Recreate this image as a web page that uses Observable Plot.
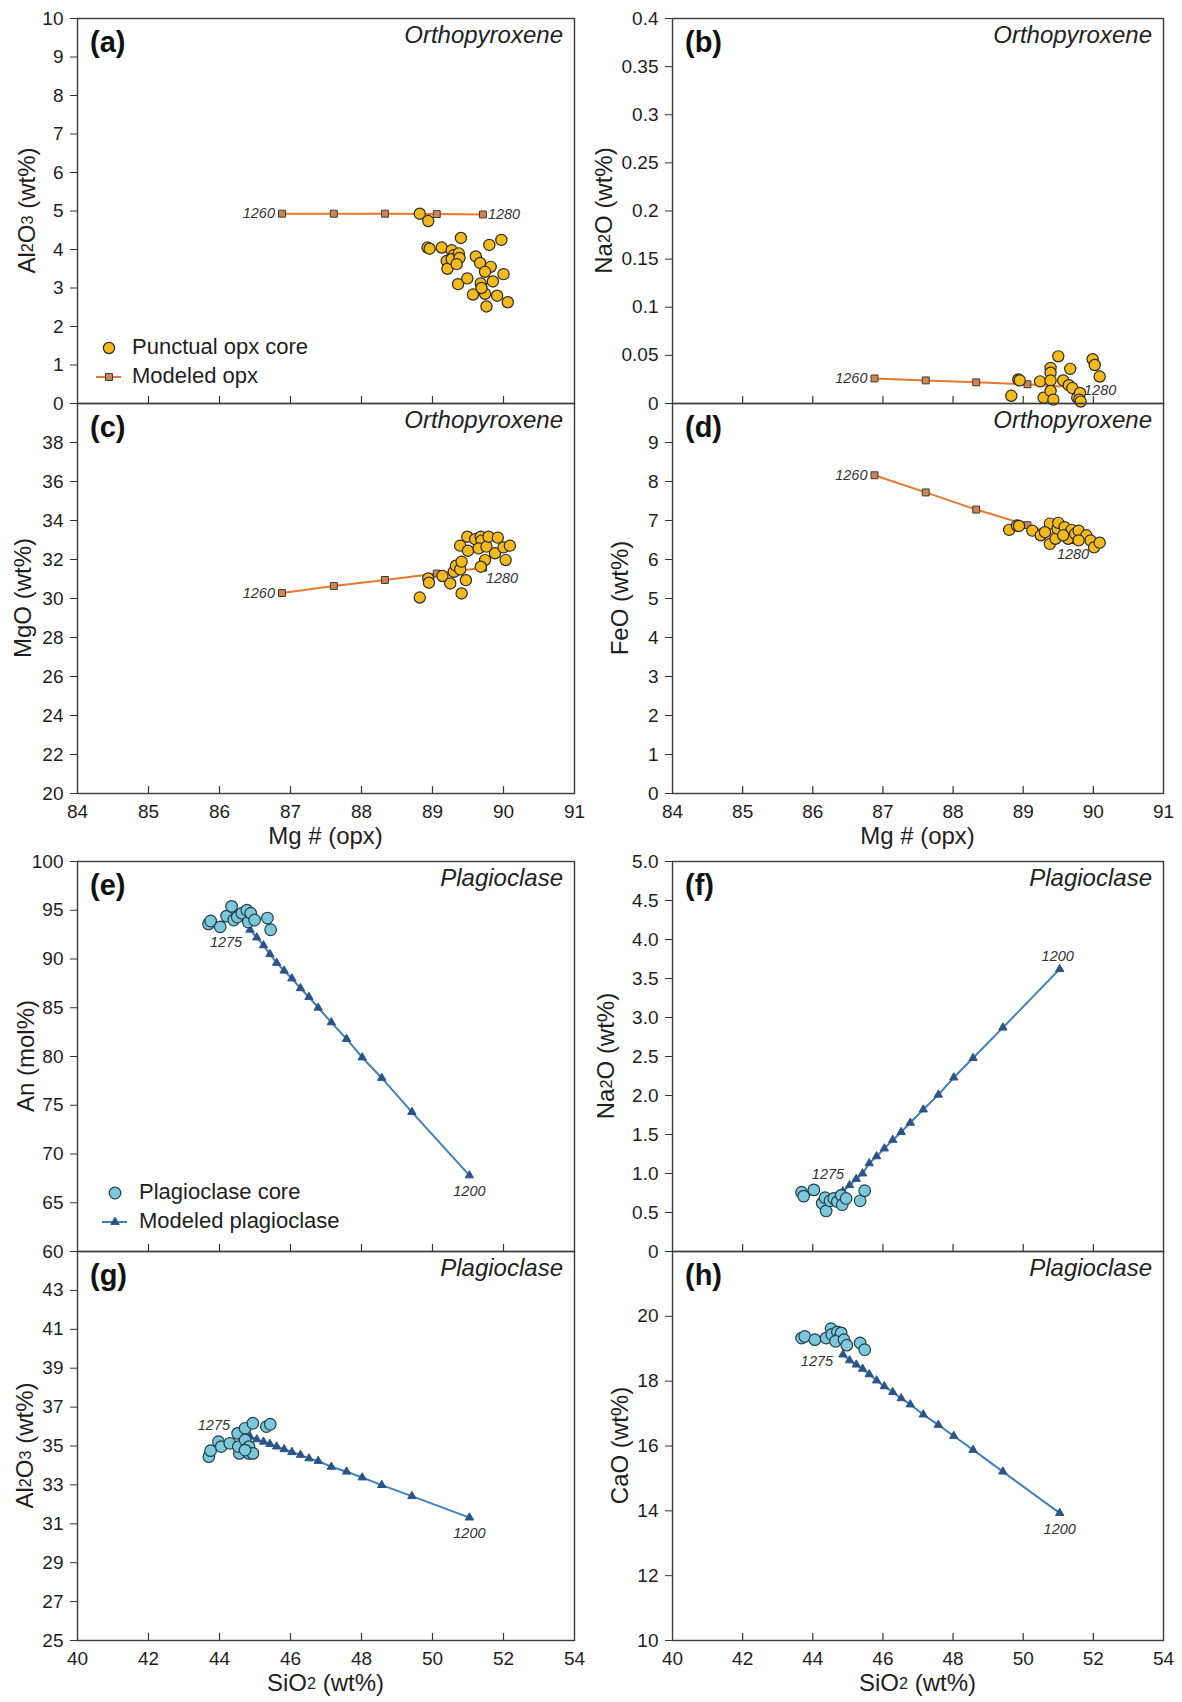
<!DOCTYPE html>
<html><head><meta charset="utf-8">
<script src="https://cdn.jsdelivr.net/npm/d3@7"></script>
<script src="https://cdn.jsdelivr.net/npm/@observablehq/plot@0.6"></script>
<style>
body{margin:0;background:#fff;}
#root{position:relative;width:1182px;height:1702px;overflow:hidden;}
.panel{position:absolute;}
</style></head><body><div id="root"></div>
<script>
const FONT = '"Liberation Sans", Arial, Helvetica, sans-serif';

// ---------- Orthopyroxene: measured cores ----------
const opxA_mg = [88.82,88.94,88.93,88.96,89.13,89.27,89.40,89.30,89.20,89.21,89.27,89.37,89.38,89.36,89.49,89.61,89.67,89.80,89.97,89.82,89.74,89.68,89.57,89.74,89.85,90.00,89.91,89.76,90.06,89.69,89.34];
const opxA_al = [4.93,4.74,4.05,4.02,4.05,3.98,4.30,3.85,3.70,3.50,3.75,3.90,3.78,3.10,3.25,3.82,3.65,4.12,4.25,3.55,3.42,3.12,2.83,2.85,3.17,3.36,2.80,2.52,2.63,3.00,3.62];

const opxB_mg = [88.83,88.93,88.95,89.24,89.29,89.39,89.39,89.39,89.39,89.43,89.50,89.57,89.67,89.65,89.70,89.77,89.81,89.80,89.99,90.02,90.09,89.82];
const opxB_na = [0.008,0.025,0.024,0.023,0.006,0.037,0.032,0.024,0.013,0.004,0.049,0.024,0.036,0.019,0.016,0.006,0.011,0.004,0.046,0.040,0.028,0.002];

const opxC_mg = [88.82,88.94,88.95,89.14,89.25,89.30,89.33,89.39,89.41,89.41,89.47,89.39,89.49,89.50,89.60,89.68,89.69,89.65,89.76,89.79,89.74,89.68,89.88,89.92,90.00,90.03,90.09];
const opxC_mgo = [30.05,31.03,30.81,31.15,30.77,31.37,31.68,31.49,31.89,30.26,30.94,32.71,33.17,32.45,33.04,33.17,32.97,32.57,32.66,33.17,31.97,31.63,32.32,33.12,32.62,31.97,32.71];

const opxD_mg = [88.80,88.91,88.94,89.13,89.25,89.38,89.38,89.46,89.49,89.50,89.59,89.64,89.69,89.74,89.79,89.90,89.96,90.01,90.09,89.31,89.57,89.79];
const opxD_feo = [6.76,6.87,6.86,6.74,6.62,6.92,6.40,6.53,6.79,6.94,6.83,6.53,6.76,6.66,6.74,6.62,6.49,6.31,6.43,6.70,6.62,6.49];

// ---------- Orthopyroxene: model ----------
const opxModel_mg  = [86.88,87.61,88.33,89.06,89.71];
const opxModel_al  = [4.93,4.93,4.93,4.92,4.91];
const opxModel_na  = [0.026,0.024,0.022,0.020,0.017];
const opxModel_mgo = [30.28,30.64,30.95,31.28,31.58];
const opxModel_feo = [8.16,7.72,7.28,6.88,6.50];
const opxModel_T   = ["1260","1280"];

// ---------- Plagioclase: measured cores ----------
const plE_si = [43.69,43.75,44.02,44.20,44.34,44.40,44.50,44.63,44.77,44.81,44.88,44.99,45.35,45.44];
const plE_an = [93.6,93.9,93.3,94.4,95.4,94.0,94.3,94.7,95.0,93.8,94.7,94.0,94.2,93.0];

const plF_si = [43.68,43.74,44.03,44.27,44.38,44.35,44.49,44.60,44.70,44.81,44.84,44.95,45.35,45.48];
const plF_na = [0.76,0.71,0.79,0.62,0.52,0.69,0.65,0.68,0.64,0.72,0.60,0.68,0.65,0.78];

const plG_si = [43.70,43.75,43.97,44.05,44.29,44.51,44.56,44.53,44.72,44.72,44.83,44.83,44.94,44.94,45.32,45.43,44.72];
const plG_al = [34.45,34.76,35.22,34.97,35.14,35.65,34.62,34.97,35.91,35.31,34.97,34.62,36.17,34.62,36.00,36.12,34.79];

const plH_si = [43.68,43.77,44.06,44.38,44.52,44.54,44.70,44.76,44.81,44.65,44.89,44.97,45.35,45.48];
const plH_cao = [19.33,19.38,19.28,19.33,19.62,19.44,19.52,19.35,19.49,19.23,19.28,19.11,19.18,18.97];

// ---------- Plagioclase: model ----------
const plModel_si  = [44.86,45.05,45.24,45.42,45.61,45.82,46.04,46.28,46.52,46.78,47.15,47.58,48.02,48.57,49.42,51.04];
const plModel_an  = [93.0,92.2,91.4,90.5,89.6,88.8,88.0,87.0,86.1,85.0,83.5,81.8,79.9,77.8,74.3,67.8];
const plModel_na  = [0.77,0.85,0.93,1.00,1.13,1.22,1.32,1.43,1.53,1.65,1.82,2.01,2.23,2.48,2.87,3.62];
const plModel_al  = [35.48,35.34,35.22,35.10,34.97,34.83,34.69,34.54,34.36,34.23,33.93,33.68,33.38,32.99,32.42,31.32];
const plModel_cao = [18.82,18.64,18.51,18.38,18.21,18.02,17.84,17.66,17.47,17.28,16.97,16.65,16.31,15.88,15.21,13.93];
const plModel_T   = ["1275","1200"];

// ---------- ticks ----------
const mgTicks = [84,85,86,87,88,89,90,91];
const mgTickLabels = ["84","85","86","87","88","89","90","91"];
const mgInner = [85,86,87,88,89,90];
const siTicks = [40,42,44,46,48,50,52,54];
const siTickLabels = ["40","42","44","46","48","50","52","54"];
const siInner = [42,44,46,48,50,52];

const alOpxTicks = [0,1,2,3,4,5,6,7,8,9,10];
const alOpxTickLabels = ["0","1","2","3","4","5","6","7","8","9","10"];
const naOpxTicks = [0,0.05,0.1,0.15,0.2,0.25,0.3,0.35,0.4];
const naOpxTickLabels = ["0","0.05","0.1","0.15","0.2","0.25","0.3","0.35","0.4"];
const mgoTicks = [20,22,24,26,28,30,32,34,36,38];
const mgoTickLabels = ["20","22","24","26","28","30","32","34","36","38"];
const feoTicks = [0,1,2,3,4,5,6,7,8,9];
const feoTickLabels = ["0","1","2","3","4","5","6","7","8","9"];
const anTicks = [60,65,70,75,80,85,90,95,100];
const anTickLabels = ["60","65","70","75","80","85","90","95","100"];
const naPlTicks = [0,0.5,1,1.5,2,2.5,3,3.5,4,4.5,5];
const naPlTickLabels = ["0","0.5","1.0","1.5","2.0","2.5","3.0","3.5","4.0","4.5","5.0"];
const alPlTicks = [25,27,29,31,33,35,37,39,41,43];
const alPlTickLabels = ["25","27","29","31","33","35","37","39","41","43"];
const caoTicks = [10,12,14,16,18,20];
const caoTickLabels = ["10","12","14","16","18","20"];

// ---------- styles ----------
const OPX = {fill:"#F4B91A", stroke:"#2a2a2a", r:5.6, line:"#E9772E", symbol:"square", symR:3.9, symFill:"#C8875B", symStroke:"#4a3426"};
const PLG = {fill:"#7DC8DB", stroke:"#22404c", r:5.8, line:"#3E80C3", symbol:"triangle", symR:3.1, symFill:"#2C5587", symStroke:"#2C5587"};

// columns: svg left, svg width, margins -> frame 77..574 (left) and 672..1163 (right)
const LEFT = {x:0, w:591, ml:77, mr:17};
const RIGHT = {x:571, w:611, ml:101, mr:19};

const panels = [
  {id:"a", col:LEFT, ft:18, fh:385, mt:18, mb:30, xD:[84,91], inner:mgInner, yD:[0,10], yT:alOpxTicks, yL:alOpxTickLabels,
   px:opxA_mg, py:opxA_al, mx:opxModel_mg, my:opxModel_al, T:opxModel_T, st:OPX, mineral:"Orthopyroxene",
   ylab:[["Al",0],["2",1],["O",0],["3",1],[" (wt%)",0]], yOff:48,
   l0:{textAnchor:"end", dx:-7, dy:0}, l1:{textAnchor:"start", dx:5, dy:0}},
  {id:"b", col:RIGHT, ft:18, fh:385, mt:18, mb:30, xD:[84,91], inner:mgInner, yD:[0,0.4], yT:naOpxTicks, yL:naOpxTickLabels,
   px:opxB_mg, py:opxB_na, mx:opxModel_mg, my:opxModel_na, T:opxModel_T, st:OPX, mineral:"Orthopyroxene",
   ylab:[["Na",0],["2",1],["O (wt%)",0]], yOff:66,
   l0:{textAnchor:"end", dx:-7, dy:0}, l1:{textAnchor:"start", dx:11, dy:3}},
  {id:"c", col:LEFT, ft:403, fh:390, mt:30, mb:70, xD:[84,91], inner:mgInner, yD:[20,40], yT:mgoTicks, yL:mgoTickLabels,
   xT:mgTicks, xL:mgTickLabels, xlab:[["Mg # (opx)",0]],
   px:opxC_mg, py:opxC_mgo, mx:opxModel_mg, my:opxModel_mgo, T:opxModel_T, st:OPX, mineral:"Orthopyroxene",
   ylab:[["MgO (wt%)",0]], yOff:52,
   l0:{textAnchor:"end", dx:-7, dy:0}, l1:{textAnchor:"start", dx:3, dy:11}},
  {id:"d", col:RIGHT, ft:403, fh:390, mt:30, mb:70, xD:[84,91], inner:mgInner, yD:[0,10], yT:feoTicks, yL:feoTickLabels,
   xT:mgTicks, xL:mgTickLabels, xlab:[["Mg # (opx)",0]],
   px:opxD_mg, py:opxD_feo, mx:opxModel_mg, my:opxModel_feo, T:opxModel_T, st:OPX, mineral:"Orthopyroxene",
   ylab:[["FeO (wt%)",0]], yOff:50,
   l0:{textAnchor:"end", dx:-7, dy:0}, l1:{textAnchor:"middle", dx:0, dy:14}},
  {id:"e", col:LEFT, ft:861, fh:390, mt:30, mb:30, xD:[40,54], inner:siInner, yD:[60,100], yT:anTicks, yL:anTickLabels,
   px:plE_si, py:plE_an, mx:plModel_si, my:plModel_an, T:plModel_T, st:PLG, mineral:"Plagioclase",
   ylab:[["An (mol%)",0]], yOff:49,
   l0:{textAnchor:"middle", dx:-24, dy:13}, l1:{textAnchor:"middle", dx:0, dy:16}},
  {id:"f", col:RIGHT, ft:861, fh:390, mt:30, mb:30, xD:[40,54], inner:siInner, yD:[0,5], yT:naPlTicks, yL:naPlTickLabels,
   px:plF_si, py:plF_na, mx:plModel_si, my:plModel_na, T:plModel_T, st:PLG, mineral:"Plagioclase",
   ylab:[["Na",0],["2",1],["O (wt%)",0]], yOff:64,
   l0:{textAnchor:"middle", dx:-15, dy:-17}, l1:{textAnchor:"middle", dx:-2, dy:-13}},
  {id:"g", col:LEFT, ft:1251, fh:389, mt:30, mb:62, xD:[40,54], inner:siInner, yD:[25,45], yT:alPlTicks, yL:alPlTickLabels,
   xT:siTicks, xL:siTickLabels, xlab:[["SiO",0],["2",1],[" (wt%)",0]],
   px:plG_si, py:plG_al, mx:plModel_si, my:plModel_al, T:plModel_T, st:PLG, mineral:"Plagioclase",
   ylab:[["Al",0],["2",1],["O",0],["3",1],[" (wt%)",0]], yOff:50,
   l0:{textAnchor:"end", dx:-20, dy:-11}, l1:{textAnchor:"middle", dx:0, dy:16}},
  {id:"h", col:RIGHT, ft:1251, fh:389, mt:30, mb:62, xD:[40,54], inner:siInner, yD:[10,22], yT:caoTicks, yL:caoTickLabels,
   xT:siTicks, xL:siTickLabels, xlab:[["SiO",0],["2",1],[" (wt%)",0]],
   px:plH_si, py:plH_cao, mx:plModel_si, my:plModel_cao, T:plModel_T, st:PLG, mineral:"Plagioclase",
   ylab:[["CaO (wt%)",0]], yOff:50,
   l0:{textAnchor:"middle", dx:-26, dy:7}, l1:{textAnchor:"middle", dx:0, dy:16}}
];

function rich(sel, parts, size) {
  parts.forEach(([t, sub]) => sel.append("tspan").attr("font-size", sub ? size * 0.68 : size).text(t));
}

const root = document.getElementById("root");

panels.forEach(p => {
  const W = p.col.w;
  const fw = W - p.col.ml - p.col.mr;
  const H = p.mt + p.fh + p.mb;
  const [y0, y1] = p.yD;
  const tickLen = (y1 - y0) * 7 / p.fh;
  const pts = p.px.map((x, i) => ({x, y: p.py[i]}));
  const mod = p.mx.map((x, i) => ({x, y: p.my[i]}));
  const first = [mod[0]], last = [mod[mod.length - 1]];
  const st = p.st;
  const marks = [
    Plot.axisY({ticks: p.yT, tickSize: 7, tickPadding: 7, tickFormat: d => p.yL[p.yT.indexOf(d)], fontSize: 19, stroke: "#333", fill: "#1e1e1e", label: null}),
    Plot.ruleX(p.inner, {x: d => d, y1: y0, y2: y0 + tickLen, stroke: "#333", strokeWidth: 1.2}),
    Plot.line(mod, {x: "x", y: "y", stroke: st.line, strokeWidth: 2}),
    Plot.dot(mod, {x: "x", y: "y", symbol: st.symbol, r: st.symR, fill: st.symFill, stroke: st.symStroke, strokeWidth: 1}),
    Plot.dot(pts, {x: "x", y: "y", r: st.r, fill: st.fill, stroke: st.stroke, strokeWidth: 1.2}),
    Plot.text(first, {x: "x", y: "y", text: () => p.T[0], ...p.l0, fontStyle: "italic", fontSize: 14.5, fill: "#333"}),
    Plot.text(last, {x: "x", y: "y", text: () => p.T[1], ...p.l1, fontStyle: "italic", fontSize: 14.5, fill: "#333"}),
    Plot.frame({stroke: "#3a3a3a", strokeWidth: 1.4})
  ];
  if (p.xT) marks.push(Plot.axisX({ticks: p.xT, tickSize: 0, tickPadding: 11, tickFormat: d => p.xL[p.xT.indexOf(d)], fontSize: 19, fill: "#1e1e1e", label: null}));
  const svg = Plot.plot({
    width: W, height: H,
    marginLeft: p.col.ml, marginRight: p.col.mr, marginTop: p.mt, marginBottom: p.mb,
    style: {background: "transparent", fontFamily: FONT, fontSize: "19px", overflow: "visible", color: "#1e1e1e"},
    x: p.xT ? {domain: p.xD} : {domain: p.xD, axis: null},
    y: {domain: p.yD},
    marks
  });
  const div = document.createElement("div");
  div.className = "panel";
  div.style.left = p.col.x + "px";
  div.style.top = (p.ft - p.mt) + "px";
  div.style.width = W + "px";
  div.appendChild(svg);
  root.appendChild(div);

  const s = d3.select(svg);
  const fx = p.col.ml, fy = p.mt;
  // panel tag
  s.append("text").attr("x", fx + 13).attr("y", fy + 26).attr("dominant-baseline", "middle").attr("text-anchor", "start")
    .attr("font-family", FONT).attr("font-weight", "bold").attr("font-size", 29).attr("fill", "#111").text("(" + p.id + ")");
  // mineral name
  s.append("text").attr("x", fx + fw - 11).attr("y", fy + 19).attr("dominant-baseline", "middle").attr("text-anchor", "end")
    .attr("font-family", FONT).attr("font-style", "italic").attr("font-size", 24).attr("fill", "#222").text(p.mineral);
  // y-axis title
  const yt = s.append("text").attr("transform", `translate(${fx - p.yOff},${fy + p.fh / 2}) rotate(-90)`)
    .attr("text-anchor", "middle").attr("dominant-baseline", "middle").attr("font-family", FONT).attr("fill", "#1e1e1e");
  rich(yt, p.ylab, 24);
  // x-axis title
  if (p.xlab) {
    const xt = s.append("text").attr("x", fx + fw / 2).attr("y", fy + p.fh + 45).attr("text-anchor", "middle")
      .attr("dominant-baseline", "middle").attr("font-family", FONT).attr("fill", "#1e1e1e");
    rich(xt, p.xlab, 24);
  }
  // legends
  if (p.id === "a" || p.id === "e") {
    const isA = p.id === "a";
    const cx = isA ? 109 : 115, tx = isA ? 132 : 139;
    const yA = isA ? fy + p.fh - 55 : fy + p.fh - 58;
    const yB = yA + 29;
    const g = s.append("g").attr("font-family", FONT).attr("font-size", 22).attr("fill", "#1e1e1e").attr("text-anchor", "start");
    g.append("circle").attr("cx", cx).attr("cy", yA).attr("r", st.r).attr("fill", st.fill).attr("stroke", st.stroke).attr("stroke-width", 1.2);
    g.append("text").attr("x", tx).attr("y", yA).attr("dominant-baseline", "middle").text(isA ? "Punctual opx core" : "Plagioclase core");
    g.append("line").attr("x1", cx - 13).attr("x2", cx + 12).attr("y1", yB).attr("y2", yB).attr("stroke", st.line).attr("stroke-width", 2);
    const sym = d3.symbol(isA ? d3.symbolSquare : d3.symbolTriangle, Math.PI * st.symR * st.symR);
    g.append("path").attr("d", sym()).attr("transform", `translate(${cx},${yB})`).attr("fill", st.symFill).attr("stroke", st.symStroke).attr("stroke-width", 1);
    g.append("text").attr("x", tx).attr("y", yB).attr("dominant-baseline", "middle").text(isA ? "Modeled opx" : "Modeled plagioclase");
  }
});
</script></body></html>
